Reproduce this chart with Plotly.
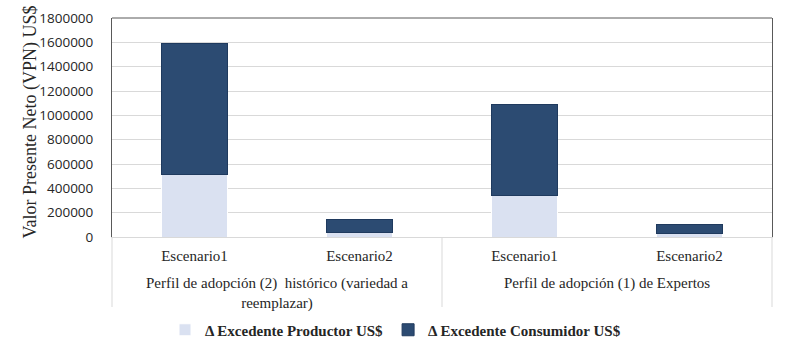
import plotly.graph_objects as go

grupos = ["Perfil de adopción (2)  histórico (variedad a<br>reemplazar)",
          "Perfil de adopción (1) de Expertos"]
escenarios = ["Escenario1", "Escenario2", "Escenario1", "Escenario2"]
grupo_de_barra = [0, 0, 1, 1]
productor = [510000, 40000, 340000, 27000]
consumidor = [1080000, 105000, 745000, 73000]
y_ticks = [0, 200000, 400000, 600000, 800000, 1000000, 1200000, 1400000, 1600000, 1800000]
y_titulo = "Valor Presente Neto (VPN) US$"

serif = "Liberation Serif, Times New Roman, serif"
claves = [f"g{g}-{e}" for g, e in zip(grupo_de_barra, escenarios)]

fig = go.Figure()
fig.add_trace(go.Bar(
    x=claves, y=productor, name="Δ Excedente Productor US$",
    marker=dict(color="#dae1f1", line=dict(color="#ffffff", width=1)),
))
fig.add_trace(go.Bar(
    x=claves, y=consumidor, name="Δ Excedente Consumidor US$",
    marker=dict(color="#2c4b72", line=dict(color="#1f3a5e", width=1)),
))

W, H = 791, 353
ml, mr, mt, mb = 112, 19, 18, 116
ph = H - mt - mb

fig.update_layout(
    barmode="stack",
    bargap=0.6,
    width=W, height=H,
    margin=dict(l=ml, r=mr, t=mt, b=mb, autoexpand=False),
    paper_bgcolor="white", plot_bgcolor="white",
    showlegend=True,
    legend=dict(orientation="h", x=0.5, xref="container", xanchor="center",
                y=(H - 330) / H, yref="container", yanchor="middle",
                font=dict(family=serif, size=15, color="#262626", weight="bold"),
                traceorder="normal", itemwidth=30),
    font=dict(family=serif, color="#262626"),
)

fig.update_xaxes(
    type="category",
    tickvals=claves, ticktext=escenarios,
    showline=True, linecolor="#d9d9d9", linewidth=1,
    showgrid=False,
    ticks="outside", ticklen=5, tickcolor="rgba(0,0,0,0)",
    tickfont=dict(family=serif, size=15, color="#262626"),
)
fig.update_yaxes(
    range=[0, 1800000],
    tickvals=y_ticks,
    ticktext=[str(v) for v in y_ticks],
    showgrid=True, gridcolor="#d9d9d9", gridwidth=1,
    showline=True, linecolor="#595959", linewidth=1, mirror=True,
    zeroline=False,
    ticks="outside", ticklen=15, tickcolor="rgba(0,0,0,0)",
    tickfont=dict(family="Open Sans, sans-serif", size=13.5, color="#262626"),
)
# y-axis title
fig.add_annotation(text=y_titulo, xref="paper", yref="paper", x=0, xshift=-(ml - 30),
                   y=(237 - 122.5) / ph,
                   xanchor="center", yanchor="middle", textangle=-90, showarrow=False,
                   font=dict(family=serif, size=18, color="#262626"))
# top frame line
fig.add_shape(type="line", xref="paper", yref="paper", x0=0, x1=1, y0=1, y1=1,
              line=dict(color="#595959", width=1))
# category group dividers below the axis
div_len = 70 / ph
for xp in [0, 0.5, 1]:
    fig.add_shape(type="line", xref="paper", yref="paper", x0=xp, x1=xp,
                  y0=0, y1=-div_len, line=dict(color="#d9d9d9", width=1))
# group labels
for i, g in enumerate(grupos):
    fig.add_annotation(text=g, xref="paper", yref="paper", x=(i + 0.5) / len(grupos),
                       y=0, yshift=-36, xanchor="center", yanchor="top", showarrow=False,
                       font=dict(family=serif, size=15, color="#262626"),
                       align="center")

fig.write_html("out.html", config={"displayModeBar": False},
               post_script="document.body.style.margin='0';")
